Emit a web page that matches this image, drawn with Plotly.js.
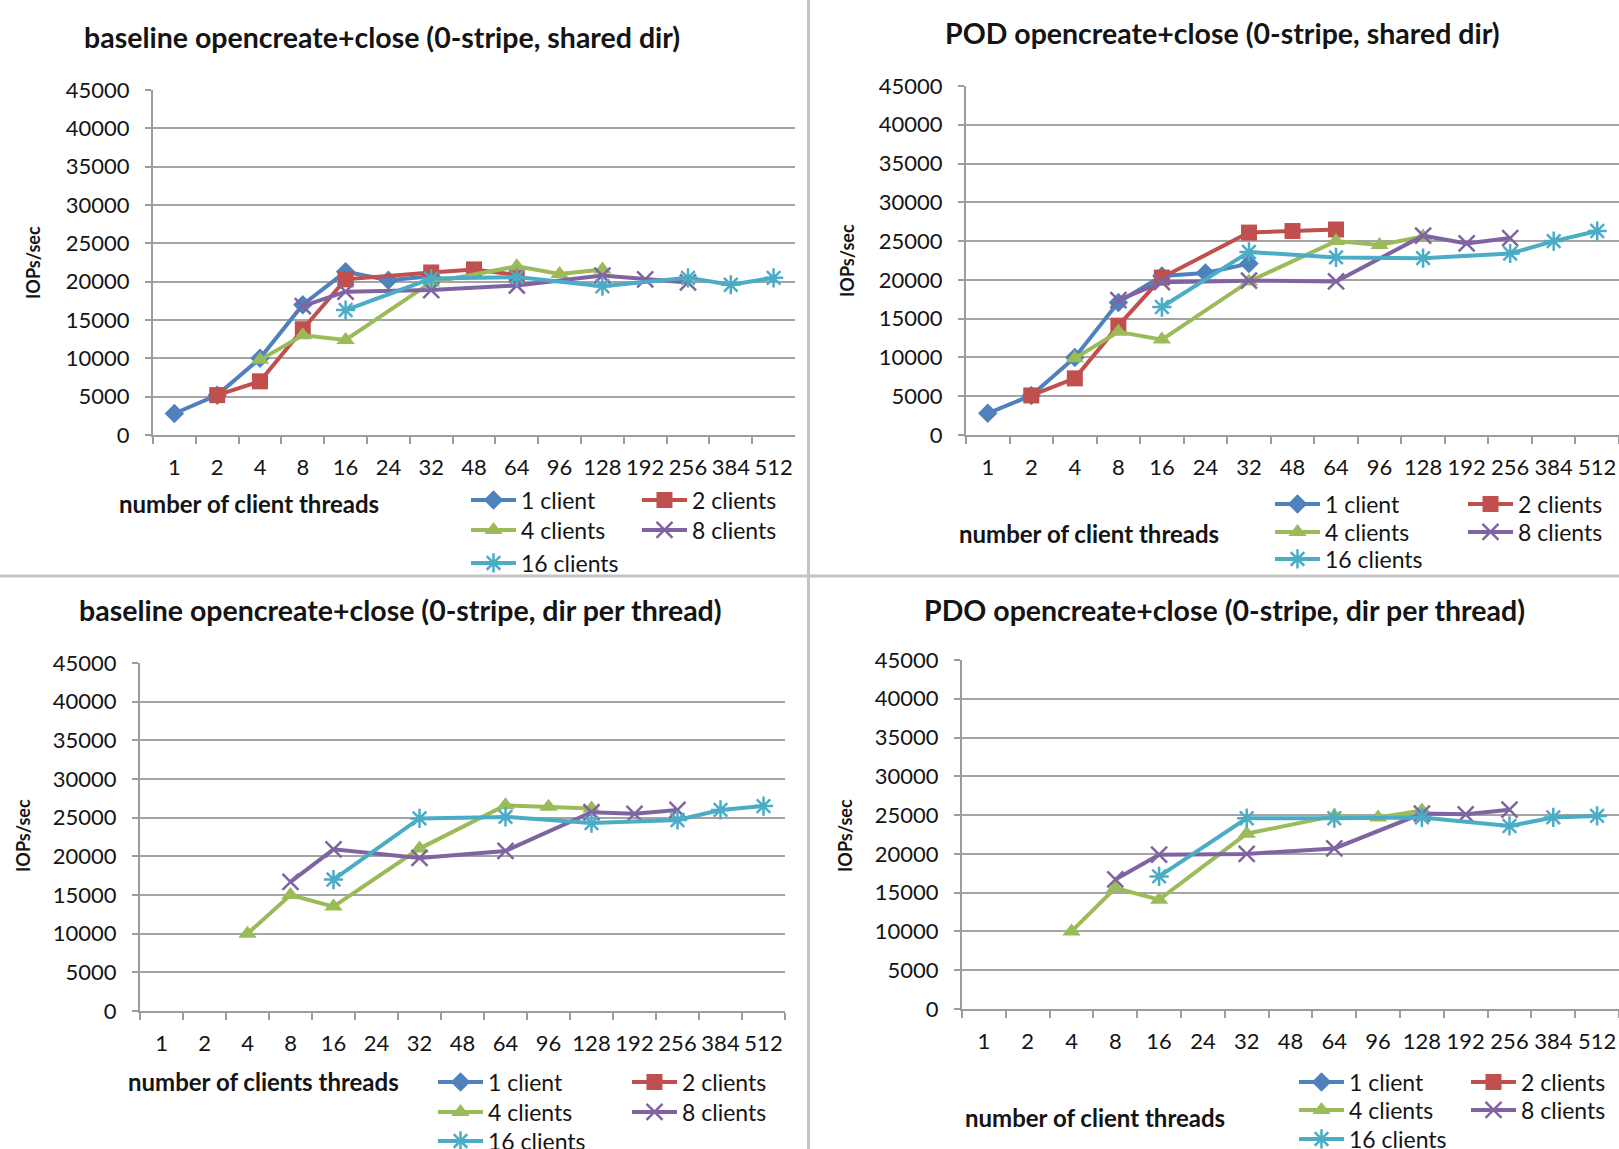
<!DOCTYPE html>
<html>
<head>
<meta charset="utf-8">
<script src="https://cdn.plot.ly/plotly-3.0.1.min.js"></script>
<style>
  html, body { margin: 0; padding: 0; background: #ffffff; }
  #chart { width: 1619px; height: 1149px; }
</style>
</head>
<body>
<div id="chart"></div>
<script>
// ---------- DATA ----------
const threads = ["1","2","4","8","16","24","32","48","64","96","128","192","256","384","512"];
const seriesNames = ["1 client","2 clients","4 clients","8 clients","16 clients"];

// baseline opencreate+close (0-stripe, shared dir)
const baseShared_1 = [2800,5200,10000,17000,21300,20200,20700,null,null,null,null,null,null,null,null];
const baseShared_2 = [null,5200,7000,13800,20300,null,21200,21600,20900,null,null,null,null,null,null];
const baseShared_4 = [null,null,9800,13000,12400,null,19900,null,22000,21000,21600,null,null,null,null];
const baseShared_8 = [null,null,null,16800,18700,null,18900,null,19500,null,20800,20300,19900,null,null];
const baseShared_16 = [null,null,null,null,16300,null,20400,null,20600,null,19400,null,20500,19600,20500];

// POD opencreate+close (0-stripe, shared dir)
const podShared_1 = [2800,5100,10000,17100,20500,20900,22100,null,null,null,null,null,null,null,null];
const podShared_2 = [null,5100,7300,14100,20300,null,26100,26300,26500,null,null,null,null,null,null];
const podShared_4 = [null,null,9900,13300,12300,null,19800,null,25000,24500,25600,null,null,null,null];
const podShared_8 = [null,null,null,17400,19700,null,19900,null,19800,null,25700,24700,25400,null,null];
const podShared_16 = [null,null,null,null,16500,null,23600,null,22900,null,22800,null,23400,25000,26300];

// baseline opencreate+close (0-stripe, dir per thread)
const baseDir_1 = [null,null,null,null,null,null,null,null,null,null,null,null,null,null,null];
const baseDir_2 = [null,null,null,null,null,null,null,null,null,null,null,null,null,null,null];
const baseDir_4 = [null,null,10000,15000,13500,null,21000,null,26600,26400,26200,null,null,null,null];
const baseDir_8 = [null,null,null,16700,20900,null,19800,null,20700,null,25700,25500,26000,null,null];
const baseDir_16 = [null,null,null,null,17000,null,24900,null,25100,null,24300,null,24700,26000,26500];

// PDO opencreate+close (0-stripe, dir per thread)
const pdoDir_1 = [null,null,null,null,null,null,null,null,null,null,null,null,null,null,null];
const pdoDir_2 = [null,null,null,null,null,null,null,null,null,null,null,null,null,null,null];
const pdoDir_4 = [null,null,10000,15600,14100,null,22600,null,24900,24700,25600,null,null,null,null];
const pdoDir_8 = [null,null,null,16700,19900,null,20000,null,20700,null,25200,25100,25700,null,null];
const pdoDir_16 = [null,null,null,null,17100,null,24600,null,24600,null,24700,null,23600,24700,24900];

const yTicks = [0,5000,10000,15000,20000,25000,30000,35000,40000,45000];

const titles = [
  "baseline opencreate+close (0-stripe, shared dir)",
  "POD opencreate+close (0-stripe, shared dir)",
  "baseline opencreate+close (0-stripe, dir per thread)",
  "PDO opencreate+close (0-stripe, dir per thread)"
];
const xTitles = [
  "number of client threads",
  "number of client threads",
  "number of clients threads",
  "number of client threads"
];
const yTitle = "IOPs/sec";

// ---------- STYLE / LAYOUT ----------
const W = 1619, H = 1149;
const FONT = "Lato, 'Open Sans', sans-serif";
const colors = ["#4F81BD","#C0504D","#9BBB59","#8064A2","#4BACC6"];
const symbols = ["diamond","square","triangle-up","x-thin-open","asterisk-open"];
const msizes = [15,16,16,16,16];

const panelData = [
  [baseShared_1, baseShared_2, baseShared_4, baseShared_8, baseShared_16],
  [podShared_1, podShared_2, podShared_4, podShared_8, podShared_16],
  [baseDir_1, baseDir_2, baseDir_4, baseDir_8, baseDir_16],
  [pdoDir_1, pdoDir_2, pdoDir_4, pdoDir_8, pdoDir_16]
];

// pixel geometry of each panel
const geo = [
  {l:153, r:795, t:90, b:435, title:[382,37], yt:[33,263], xt:[117,504], leg:{x:471, rows:[500,530,563], step:171}},
  {l:966, r:1619, t:86, b:435, title:[1222,33], yt:[847,260], xt:[957,533], leg:{x:1275, rows:[504,532,559], step:193}},
  {l:140, r:785, t:663, b:1011, title:[400,610], yt:[23,836], xt:[126,1081], leg:{x:438, rows:[1082,1112,1141], step:194}},
  {l:962, r:1619, t:660, b:1009, title:[1224,610], yt:[845,836], xt:[963,1117], leg:{x:1299, rows:[1082,1110,1139], step:172}}
];

const ITEMW = 45;
const traces = [];
const layout = {
  width: W, height: H,
  margin: {l:0, r:0, t:0, b:0, pad:0, autoexpand:false},
  paper_bgcolor: "#ffffff",
  plot_bgcolor: "#ffffff",
  font: {family: FONT, size: 22, color: "#1e1e1e"},
  showlegend: true,
  annotations: [],
  shapes: []
};

geo.forEach((g, p) => {
  const ax = p === 0 ? "" : String(p + 1);
  layout["xaxis" + ax] = {
    domain: [g.l / W, g.r / W],
    anchor: "y" + ax,
    type: "category",
    categoryorder: "array",
    categoryarray: threads,
    range: [-0.5, threads.length - 0.5],
    showgrid: false,
    zeroline: false,
    showline: true,
    linecolor: "#9c9c9c",
    linewidth: 2,
    ticks: "outside",
    tickson: "boundaries",
    ticklen: 7,
    tickwidth: 2,
    tickcolor: "#9c9c9c",
    tickangle: 0,
    ticklabelstandoff: 12,
    tickfont: {family: FONT, size: 22, color: "#141414"},
    automargin: false,
    fixedrange: true
  };
  layout["yaxis" + ax] = {
    domain: [1 - g.b / H, 1 - g.t / H],
    anchor: "x" + ax,
    range: [0, 45000],
    tickvals: yTicks,
    tickformat: "d",
    showgrid: true,
    gridcolor: "#a4a4a4",
    gridwidth: 2,
    zeroline: false,
    showline: true,
    linecolor: "#9c9c9c",
    linewidth: 2,
    ticks: "outside",
    ticklen: 6,
    tickwidth: 2,
    tickcolor: "#9c9c9c",
    ticklabelstandoff: 11,
    tickfont: {family: FONT, size: 22, color: "#141414"},
    automargin: false,
    fixedrange: true
  };

  // legends: one per row
  const legIds = [];
  g.leg.rows.forEach((ry, r) => {
    const idx = p * 3 + r + 1;
    const id = idx === 1 ? "legend" : "legend" + idx;
    legIds.push(id);
    layout[id] = {
      orientation: "h",
      xref: "paper", yref: "paper",
      x: (g.leg.x - 5) / W, xanchor: "left",
      y: 1 - ry / H, yanchor: "middle",
      bgcolor: "rgba(0,0,0,0)",
      borderwidth: 0,
      itemwidth: ITEMW,
      entrywidth: g.leg.step - ITEMW - 15,
      entrywidthmode: "pixels",
      font: {family: FONT, size: 23, color: "#141414"},
      itemclick: false, itemdoubleclick: false
    };
  });

  panelData[p].forEach((ys, s) => {
    traces.push({
      type: "scatter",
      mode: "lines+markers",
      name: seriesNames[s],
      x: threads,
      y: ys,
      xaxis: "x" + ax,
      yaxis: "y" + ax,
      connectgaps: true,
      legend: legIds[s < 2 ? 0 : (s < 4 ? 1 : 2)],
      line: {color: colors[s], width: 4},
      marker: {
        symbol: symbols[s], size: msizes[s], color: colors[s],
        line: {color: colors[s], width: (s >= 3 ? 2.5 : 0)}
      },
      hoverinfo: "x+y+name"
    });
  });

  layout.annotations.push({
    text: "<b>" + titles[p] + "</b>",
    xref: "paper", yref: "paper",
    x: g.title[0] / W, y: 1 - g.title[1] / H,
    xanchor: "center", yanchor: "middle",
    showarrow: false,
    font: {family: FONT, size: 28.5, color: "#141414"}
  });
  layout.annotations.push({
    text: "<b>" + yTitle + "</b>",
    xref: "paper", yref: "paper",
    x: g.yt[0] / W, y: 1 - g.yt[1] / H,
    xanchor: "center", yanchor: "middle",
    textangle: -90,
    showarrow: false,
    font: {family: FONT, size: 18, color: "#141414"}
  });
  layout.annotations.push({
    text: "<b>" + xTitles[p] + "</b>",
    xref: "paper", yref: "paper",
    x: g.xt[0] / W, y: 1 - g.xt[1] / H,
    xanchor: "left", yanchor: "middle",
    showarrow: false,
    font: {family: FONT, size: 24, color: "#141414"}
  });
});

// panel separators
layout.shapes.push({type:"line", xref:"paper", yref:"paper", x0:808.5/W, x1:808.5/W, y0:0, y1:1, line:{color:"#c4c4c4", width:3}});
layout.shapes.push({type:"line", xref:"paper", yref:"paper", x0:0, x1:1, y0:1-576/H, y1:1-576/H, line:{color:"#c4c4c4", width:3}});

Plotly.newPlot("chart", traces, layout, {displayModeBar:false, staticPlot:true});
</script>
</body>
</html>
